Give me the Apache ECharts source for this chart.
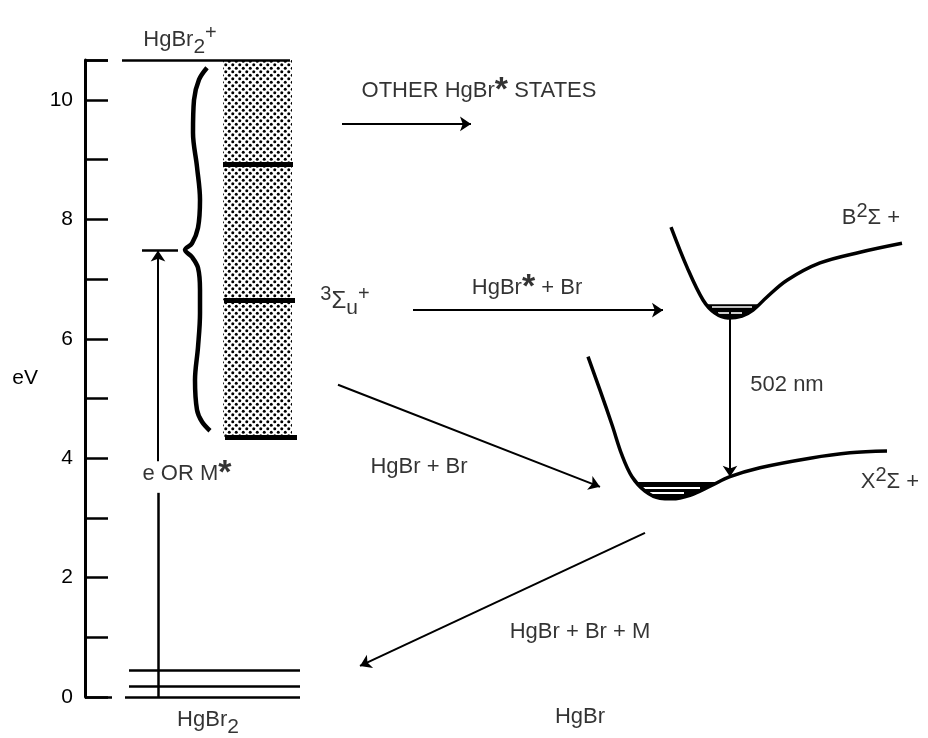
<!DOCTYPE html>
<html><head><meta charset="utf-8">
<script src="https://cdn.jsdelivr.net/npm/echarts@6/dist/echarts.min.js"></script>
<style>html,body{margin:0;padding:0;background:#fff}#c{width:928px;height:738px}</style>
</head><body><div id="c"></div>
<script>
// ---- energy axis (eV) ----
const yMin = 0, yMax = 10.67, yStep = 1;
// ---- diagram x extent (arbitrary diagram units) ----
const xMin = 85, xMax = 928;

// Plain level lines: [x1, eV1, x2, eV2]
const thinSegments = [
  [85, 10.67, 108, 10.67],
  [122, 10.67, 290, 10.67],
  [85, 0, 112, 0],
  [125, 0, 300, 0],
  [129, 0.18, 300, 0.18],
  [129, 0.44, 300, 0.44],
  [142, 7.48, 178, 7.48],
  [158, 0, 158, 3.42]
];
// Levels inside the ionisation band
const bandLevels = [[223, 8.93, 293, 8.93], [224, 6.64, 295, 6.64], [225, 4.35, 297, 4.35]];
// Stippled band [x0, x1, eVlow, eVhigh]
const ionBand = [223, 292, 4.35, 10.67];

// Vibrational levels in the wells: top of filled region and white gaps
const wellTopB = 6.58;
const wellGapsB = [[712, 6.53, 752, 6.53], [718, 6.43, 742, 6.43]];
const wellTopX = 3.60;
const wellGapsX = [[640, 3.51, 700, 3.51], [650, 3.42, 684, 3.42]];

// Arrows: [x1, eV1, x2, eV2] (head at second point)
const arrows = [
  [158, 3.95, 158, 7.48],
  [342, 9.60, 471, 9.60],
  [413, 6.48, 663, 6.48],
  [338, 5.23, 600, 3.52],
  [645, 2.75, 360, 0.52],
  [730, 6.50, 730, 3.69]
];

// Potential curves [x, eV]
const curveB = [[671,7.87],[687,7.20],[703,6.65],[715,6.43],[728,6.35],[742,6.38],[753,6.48],[767,6.70],[787,6.98],[820,7.27],[860,7.45],[902,7.60]];
const curveX = [[588,5.70],[600,5.14],[612,4.56],[622,4.05],[632,3.69],[645,3.45],[660,3.33],[672,3.32],[690,3.38],[710,3.53],[730,3.69],[760,3.84],[810,4.00],[850,4.09],[887,4.12]];
// Curly brace
const brace = [[207,10.54],[199,10.34],[194,10.0],[193,9.45],[197,8.88],[200,8.33],[198,7.86],[192,7.60],[185,7.49],[192,7.37],[198,7.19],[200,6.82],[200,6.43],[198,5.86],[195,5.31],[197,4.81],[202,4.61],[210,4.46]];

// Text labels: [x, eV, rich text]
const labels = [
  [180, 11.0, '{b|HgBr}{sub|2}{sup|+}'],
  [208, -0.39, '{b|HgBr}{sub|2}'],
  [580, -0.34, '{b|HgBr}'],
  [187, 3.74, '{b|e OR M}{star|*}'],
  [345, 6.62, '{sup|3}{s|Σ}{sub|u}{sup|+}'],
  [479, 10.15, '{b|OTHER HgBr}{star|*}{b| STATES}'],
  [527, 6.86, '{b|HgBr}{star|*}{b| + Br}'],
  [419, 3.85, '{b|HgBr + Br}'],
  [787, 5.23, '{b|502 nm}'],
  [871, 8.02, '{b|B}{sup|2}{b|Σ +}'],
  [890, 3.60, '{b|X}{sup|2}{b|Σ +}'],
  [580, 1.09, '{b|HgBr + Br + M}']
];
const yAxisTitle = 'eV';

// well fill polygon: region of a curve lying below a level
function wellPolygon(curve, level) {
  const pts = [];
  for (let i = 0; i < curve.length - 1; i++) {
    const [x0, y0] = curve[i], [x1, y1] = curve[i + 1];
    if (y0 <= level) pts.push([x0, y0]);
    if ((y0 - level) * (y1 - level) < 0) {
      const t = (level - y0) / (y1 - y0);
      pts.push([x0 + t * (x1 - x0), level]);
    }
  }
  return pts;
}

// stipple pattern
const pat = document.createElement('canvas');
pat.width = 7; pat.height = 7;
(function(){const g = pat.getContext('2d'); g.fillStyle = '#000';
  g.beginPath(); g.arc(1.75,1.75,1.5,0,2*Math.PI); g.fill();
  g.beginPath(); g.arc(5.25,5.25,1.5,0,2*Math.PI); g.fill();})();

const FONT = 'Liberation Sans';
const seg = a => ({coords: [[a[0], a[1]], [a[2], a[3]]]});
const linesSeries = (data, width, arrow, color) => ({
  type: 'lines', coordinateSystem: 'cartesian2d', clip: false, silent: true,
  polyline: false, symbol: arrow ? ['none', 'arrow'] : ['none', 'none'], symbolSize: 11,
  lineStyle: {color: color || '#000', width: width, opacity: 1},
  data: data.map(seg)
});
const curve = (data, width) => ({
  type: 'line', data: data, smooth: 0.35, symbol: 'none', clip: false, silent: true,
  lineStyle: {color: '#000', width: width}
});
const polySeries = (pts) => ({
  type: 'custom', clip: false, silent: true, data: [0],
  renderItem: (p, api) => ({type: 'polygon',
    shape: {points: pts.map(q => api.coord(q))}, style: {fill: '#000'}})
});

const chart = echarts.init(document.getElementById('c'), null, {renderer: 'canvas'});
chart.setOption({
  animation: false,
  backgroundColor: '#fff',
  grid: {left: 85, right: 0, top: 60, bottom: 41, containLabel: false},
  xAxis: {type: 'value', min: xMin, max: xMax, show: false},
  yAxis: {
    type: 'value', min: yMin, max: yMax, interval: yStep,
    name: yAxisTitle, nameLocation: 'middle', nameRotate: 0, nameGap: 47,
    nameTextStyle: {fontFamily: FONT, fontSize: 21, color: '#000'},
    axisLine: {show: true, lineStyle: {color: '#000', width: 3}},
    axisTick: {show: true, inside: true, length: 23, lineStyle: {color: '#000', width: 2.5}},
    axisLabel: {color: '#000', fontFamily: FONT, fontSize: 21, margin: 12,
      formatter: v => (Math.abs(v % 2) < 1e-6 ? String(v) : '')},
    splitLine: {show: false}
  },
  series: [
    {type: 'custom', clip: false, silent: true, data: [ionBand],
     renderItem: (p, api) => {
       const a = api.coord([api.value(0), api.value(3)]);
       const b = api.coord([api.value(1), api.value(2)]);
       return {type: 'rect', shape: {x: a[0], y: a[1], width: b[0] - a[0], height: b[1] - a[1]},
               style: {fill: {image: pat, repeat: 'repeat'}}};
     }},
    linesSeries(thinSegments, 2.5, false),
    linesSeries(bandLevels, 5, false),
    polySeries(wellPolygon(curveB, wellTopB)),
    polySeries(wellPolygon(curveX, wellTopX)),
    curve(curveB, 3.5),
    curve(curveX, 3.5),
    linesSeries(wellGapsB, 1.6, false, '#fff'),
    linesSeries(wellGapsX, 1.8, false, '#fff'),
    linesSeries(arrows, 2, true),
    curve(brace, 4.5),
    {type: 'scatter', clip: false, silent: true, symbolSize: 1,
     itemStyle: {color: 'rgba(0,0,0,0)'},
     data: labels.map(l => ({value: [l[0], l[1]], label: {formatter: l[2]}})),
     label: {show: true, position: 'inside', color: '#000', fontFamily: FONT, fontSize: 22,
       rich: {
         b: {fontFamily: FONT, fontSize: 22, lineHeight: 34, color: '#000'},
         s: {fontFamily: FONT, fontSize: 24, lineHeight: 34, color: '#000'},
         sub: {fontFamily: FONT, fontSize: 21, lineHeight: 22, verticalAlign: 'bottom', color: '#000'},
         sup: {fontFamily: FONT, fontSize: 20, lineHeight: 20, verticalAlign: 'top', color: '#000'},
         star: {fontFamily: FONT, fontSize: 34, fontWeight: 'bold', lineHeight: 32, verticalAlign: 'top', color: '#000'}
       }}}
  ]
});
</script></body></html>
